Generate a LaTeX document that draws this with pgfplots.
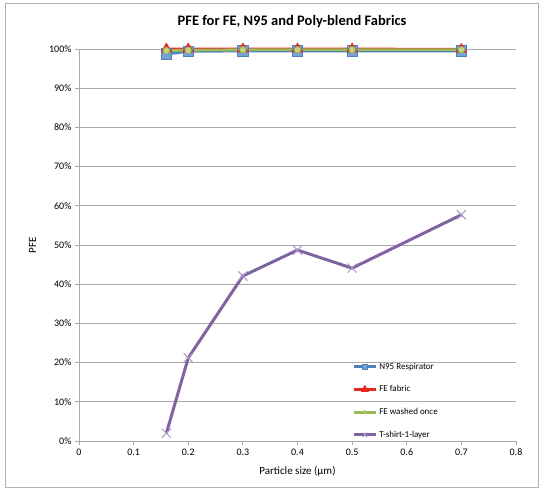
\documentclass[border=0pt]{standalone}
\usepackage{fontspec}
\setmainfont{Carlito}
\usepackage{pgfplots}
\pgfplotsset{compat=1.18}
\definecolor{nblue}{RGB}{79,129,189}
\definecolor{nbluel}{RGB}{120,160,210}
\definecolor{fred}{RGB}{230,40,30}
\definecolor{wgreen}{RGB}{155,187,89}
\definecolor{wgreenl}{RGB}{190,215,120}
\definecolor{tpurple}{RGB}{128,100,162}
\definecolor{tpurplel}{RGB}{170,150,200}
\definecolor{gridg}{RGB}{170,170,170}
\begin{document}
\begin{tikzpicture}[x=1pt,y=1pt]
\useasboundingbox (-79,-49) rectangle (460,441);
\draw[gray!60, line width=0.8pt] (-74,-46.5) rectangle (459,438);
\node[font=\bfseries\fontsize{14.5}{16}\selectfont] at (213,419) {PFE for FE, N95 and Poly-blend Fabrics};
\begin{axis}[
    at={(0,0)}, anchor=south west,
    scale only axis, width=437pt, height=392pt,
    xmin=0, xmax=0.8, ymin=0, ymax=100,
    axis x line=bottom, axis y line=left,
    axis line style={-, draw=gridg, line width=0.8pt},
    xtick={0,0.1,...,0.8}, ytick={0,10,...,100},
    tick align=outside, major tick length=4pt,
    tick style={draw=gridg, line width=0.8pt},
    ymajorgrids, grid style={draw=gridg, line width=0.8pt},
    /pgf/number format/assume math mode=true,
    xticklabel style={/pgf/number format/fixed, /pgf/number format/precision=1},
    yticklabel={\pgfmathprintnumber{\tick}\%},
    ticklabel style={font=\fontsize{10}{12}\selectfont},
    xlabel={Particle size (µm)}, ylabel={PFE},
    label style={font=\fontsize{11}{13}\selectfont},
    xlabel style={yshift=-4pt}, ylabel style={yshift=6pt},
    legend style={at={(0.625,0.205)}, anchor=north west, draw=none, fill=none,
        font=\fontsize{9}{10}\selectfont, row sep=11pt, inner sep=0pt},
    legend cell align=left,
    legend image code/.code={
        \draw[#1, every mark/.append style={scale=0.5}, mark repeat=2, mark phase=2]
            plot coordinates {(0pt,0pt) (11pt,0pt) (22pt,0pt)};
    },
    clip=false,
]
\addplot[nblue, line width=2.8pt, mark=square*, mark size=5.2pt,
    mark options={fill=nbluel, draw=nblue, line width=0.8pt}] coordinates {
    (0.16,98.7) (0.2,99.4) (0.3,99.5) (0.4,99.5) (0.5,99.5) (0.7,99.5)
};
\addlegendentry{N95 Respirator}
\addplot[fred, line width=2.8pt, mark=triangle*, mark size=3.8pt,
    mark options={fill=fred, draw=fred}] coordinates {
    (0.16,100) (0.2,100) (0.3,100) (0.4,100) (0.5,100) (0.7,99.9)
};
\addlegendentry{FE fabric}
\addplot[wgreen, line width=2.8pt, mark=*, mark size=3.2pt,
    mark options={fill=wgreenl, draw=wgreen, line width=0.8pt}] coordinates {
    (0.16,99.6) (0.2,99.7) (0.3,99.8) (0.4,99.8) (0.5,99.8) (0.7,99.8)
};
\addlegendentry{FE washed once}
\addplot[tpurple, line width=3pt, mark=x, mark size=6.5pt,
    mark options={draw=tpurplel, line width=1pt}] coordinates {
    (0.16,2.0) (0.2,21.2) (0.3,42.1) (0.4,48.7) (0.5,44.1) (0.7,57.7)
};
\addlegendentry{T-shirt-1-layer}
\end{axis}
\end{tikzpicture}
\end{document}
